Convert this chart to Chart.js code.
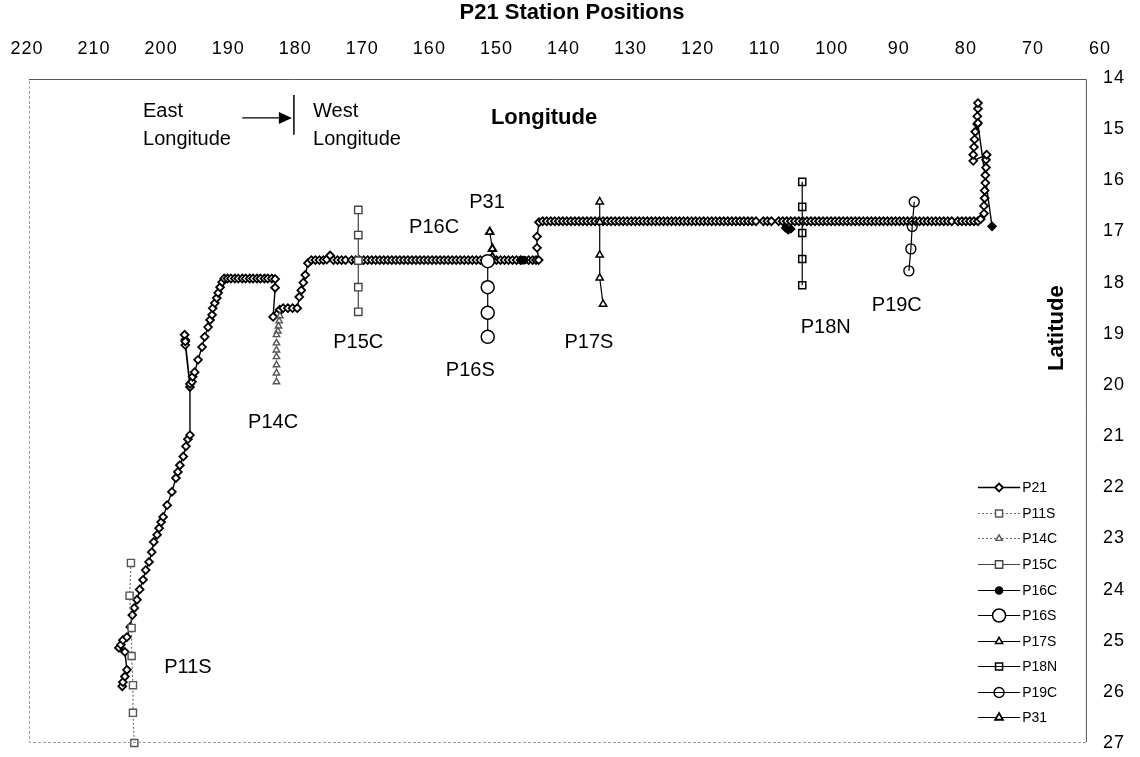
<!DOCTYPE html>
<html><head><meta charset="utf-8">
<script src="https://cdn.jsdelivr.net/npm/chart.js@4"></script>
<style>html,body{margin:0;padding:0;background:#fff;}canvas{display:block;}</style>
</head><body>
<canvas id="c" width="1140" height="757"></canvas>
<script>
const chartTitle = 'P21 Station Positions';
const lonTicks = [220,210,200,190,180,170,160,150,140,130,120,110,100,90,80,70,60];
const latTicks = [14,15,16,17,18,19,20,21,22,23,24,25,26,27];
const seriesNames = ['P21','P11S','P14C','P15C','P16C','P16S','P17S','P18N','P19C','P31'];

// P21 track [longitude, latitude]
const p21Track = [
[205.8,25.89],[205.7,25.81],[205.4,25.70],[205.1,25.57],[205.4,25.22],[206.3,25.14],[206.0,25.08],[205.7,24.99],[205.1,24.93],[204.6,24.73],[204.3,24.50],[204.0,24.36],[203.6,24.20],[203.2,24.00],[202.7,23.81],[202.3,23.62],[201.8,23.46],[201.4,23.27],[201.1,23.07],[200.6,22.93],[200.3,22.80],[200.0,22.68],[199.7,22.58],[199.1,22.35],[198.4,22.09],[197.8,21.82],[197.5,21.70],[197.2,21.57],[196.7,21.40],[196.3,21.20],[196.0,21.06],[195.7,20.98],
[195.7,20.04],[196.4,19.22],[196.4,19.12],[196.5,19.02],[196.4,19.15],[195.7,19.98],
[195.4,19.94],[195.3,19.84],[195.0,19.75],[194.5,19.51],[193.9,19.26],[193.5,19.06],[193.0,18.87],[192.7,18.73],[192.4,18.63],[192.3,18.50],[192.0,18.40],[191.7,18.30],[191.5,18.20],[191.2,18.09],[190.9,17.99],[190.6,17.92],
[190.1,17.92],[189.6,17.92],[189.0,17.92],[188.5,17.92],[187.9,17.92],[187.4,17.92],[186.8,17.92],[186.3,17.92],[185.7,17.92],[185.2,17.92],[184.6,17.92],[184.1,17.92],[183.5,17.92],[183.0,17.93],
[183.0,18.10],[183.3,18.67],[182.6,18.60],[182.3,18.53],[181.8,18.50],[181.1,18.50],[180.4,18.50],[179.7,18.50],
[179.4,18.28],[179.1,18.15],[178.8,18.00],[178.5,17.85],[178.1,17.62],
[177.6,17.56],[177.0,17.56],[176.4,17.56],[175.8,17.56],[175.3,17.55],[174.8,17.47],[174.3,17.56],[173.7,17.56],[173.1,17.56],[172.5,17.56],[171.6,17.56],[171.0,17.56],[170.4,17.56],[169.8,17.56],[169.2,17.56],[168.6,17.56],[168.0,17.56],[167.4,17.56],[166.8,17.56],[166.2,17.56],[165.6,17.56],[165.0,17.56],[164.4,17.56],[163.8,17.56],[163.2,17.56],[162.6,17.56],[162.0,17.56],[161.4,17.56],[160.8,17.56],[160.2,17.56],[159.6,17.56],[159.0,17.56],[158.4,17.56],[157.8,17.56],[157.2,17.56],[156.6,17.56],[156.0,17.56],[155.4,17.56],[154.8,17.56],[154.2,17.56],[153.6,17.56],[153.0,17.56],[152.4,17.56],[151.8,17.56],[151.2,17.56],[150.6,17.56],[150.0,17.56],[149.4,17.56],[148.8,17.56],[148.2,17.56],[147.6,17.56],[147.0,17.56],[146.4,17.56],[145.2,17.56],[144.6,17.56],[144.1,17.56],[143.7,17.56],
[143.95,17.32],[143.95,17.10],[143.65,16.82],
[143.1,16.80],[142.5,16.80],[141.9,16.80],[141.3,16.80],[140.7,16.80],[140.1,16.80],[139.5,16.80],[138.9,16.80],[138.3,16.80],[137.7,16.80],[137.1,16.80],[136.5,16.80],[135.9,16.80],[135.3,16.80],[134.7,16.80],[134.1,16.80],[133.5,16.80],[132.9,16.80],[132.3,16.80],[131.7,16.80],[131.1,16.80],[130.5,16.80],[129.9,16.80],[129.3,16.80],[128.7,16.80],[128.1,16.80],[127.5,16.80],[126.9,16.80],[126.3,16.80],[125.7,16.80],[125.1,16.80],[124.5,16.80],[123.9,16.80],[123.3,16.80],[122.7,16.80],[122.1,16.80],[121.5,16.80],[120.9,16.80],[120.3,16.80],[119.7,16.80],[119.1,16.80],[118.5,16.80],[117.9,16.80],[117.3,16.80],[116.7,16.80],[116.1,16.80],[115.5,16.80],[114.9,16.80],[114.3,16.80],[113.7,16.80],[113.1,16.80],[112.5,16.80],[111.9,16.80],[111.3,16.80],[110.2,16.80],[109.6,16.80],[109.0,16.80],[107.9,16.80],[107.3,16.80],[106.7,16.80],[106.1,16.80],[105.5,16.80],[104.9,16.80],[104.3,16.80],[103.7,16.80],[103.1,16.80],[102.5,16.80],[101.9,16.80],[101.3,16.80],[100.7,16.80],[100.1,16.80],[99.5,16.80],[98.9,16.80],[98.3,16.80],[97.7,16.80],[97.1,16.80],[96.5,16.80],[95.9,16.80],[95.3,16.80],[94.7,16.80],[94.1,16.80],[93.5,16.80],[92.9,16.80],[92.3,16.80],[91.7,16.80],[91.1,16.80],[90.5,16.80],[89.9,16.80],[89.3,16.80],[88.7,16.80],[88.1,16.80],[87.5,16.80],[86.9,16.80],[86.3,16.80],[85.7,16.80],[85.1,16.80],[84.5,16.80],[83.9,16.80],[83.3,16.80],[82.7,16.80],[82.1,16.80],[81.2,16.80],[80.6,16.80],[80.0,16.80],[79.4,16.80],[78.8,16.80],[78.2,16.80],
[77.8,16.76],[77.3,16.65],[77.3,16.50],[77.2,16.35],[77.2,16.20],[77.1,16.05],[77.1,15.90],[77.0,15.75],[77.0,15.60],[76.9,15.50],
[78.9,15.62],[78.9,15.50],[78.8,15.35],[78.7,15.20],[78.6,15.05],[78.3,14.90],[78.3,14.75],[78.2,14.60],[78.2,14.49],[78.2,14.88],[76.1,16.90]
];
const p21Dark = [[106.9,16.93],[106.5,16.97],[106.1,16.95]];
const p11s = [[204.5,23.48],[204.7,24.12],[204.4,24.75],[204.4,25.30],[204.2,25.87],[204.2,26.41],[204.0,27.00]];
const p14c = [[182.3,18.65],[182.4,18.75],[182.5,18.85],[182.6,18.95],[182.8,19.02],[182.8,19.18],[182.8,19.32],[182.8,19.45],[182.8,19.61],[182.8,19.77],[182.8,19.94]];
const p15c = [[170.6,16.58],[170.6,17.07],[170.6,17.57],[170.6,18.09],[170.6,18.57]];
const p16c = [[146.3,17.56],[145.9,17.56]];
const p16s = [[151.3,17.58],[151.3,18.09],[151.3,18.59],[151.3,19.06]];
const p17s = [[134.6,16.42],[134.6,16.82],[134.6,17.46],[134.6,17.91],[134.1,18.42]];
const p18n = [[104.4,16.03],[104.4,16.52],[104.4,17.03],[104.4,17.54],[104.4,18.05]];
const p19c = [[87.7,16.42],[88.0,16.90],[88.2,17.34],[88.5,17.77]];
const p31 = [[151.0,17.01],[150.6,17.34],[150.6,17.50],[150.8,17.56]];

const lineLabels = [
  {text:'P11S', lon:196.0, lat:25.52}, {text:'P14C', lon:183.3, lat:20.74},
  {text:'P15C', lon:170.6, lat:19.18}, {text:'P16C', lon:159.3, lat:16.93},
  {text:'P31', lon:151.4, lat:16.44}, {text:'P16S', lon:153.9, lat:19.71},
  {text:'P17S', lon:136.2, lat:19.18}, {text:'P18N', lon:100.9, lat:18.87},
  {text:'P19C', lon:90.3, lat:18.44}
];

const FONT = "'Liberation Sans', Arial, Helvetica, sans-serif";
Chart.defaults.font.family = FONT;
Chart.defaults.color = '#000';

function pts(a){ return a.map(p => ({x:p[0], y:p[1]})); }
function ds(label, data, o){
  return Object.assign({
    label, data: pts(data), borderColor:'#000', borderWidth:1.2, pointBorderColor:'#000',
    pointBackgroundColor:'#fff', pointBorderWidth:1.4, pointRadius:4, pointHoverRadius:4,
    showLine:true, tension:0, clip:false, fill:false, order:0, spanGaps:false
  }, o);
}
const lastIdx = p21Track.length - 1;
const datasets = [
  ds('P21', p21Track, {pointStyle:'rectRot', pointRadius:3.9, borderWidth:1.4, pointBorderWidth:1.8, order:10,
     pointBackgroundColor: c => c.dataIndex === lastIdx ? '#000' : '#fff'}),
  ds('P11S', p11s, {pointStyle:'rect', pointRadius:5, borderColor:'#666', pointBorderColor:'#555', borderDash:[2,2], borderWidth:1.1}),
  ds('P14C', p14c, {pointStyle:'triangle', pointRadius:3.7, borderColor:'#666', pointBorderColor:'#555', borderDash:[2,2], borderWidth:1.1}),
  ds('P15C', p15c, {pointStyle:'rect', pointRadius:5.2, borderColor:'#444', pointBorderColor:'#444'}),
  ds('P16C', p16c, {pointStyle:'circle', pointRadius:3.6, pointBackgroundColor:'#000'}),
  ds('P16S', p16s, {pointStyle:'circle', pointRadius:6.5, pointBorderWidth:1.5}),
  ds('P17S', p17s, {pointStyle:'triangle', pointRadius:4.2, pointBorderWidth:1.5}),
  ds('P18N', p18n, {pointStyle:'rect', pointRadius:5, pointBackgroundColor:'rgba(0,0,0,0)', pointBorderWidth:1.5}),
  ds('P19C', p19c, {pointStyle:'circle', pointRadius:5, pointBackgroundColor:'rgba(0,0,0,0)', pointBorderWidth:1.4}),
  ds('P31', p31, {pointStyle:'triangle', pointRadius:4.4, pointBorderWidth:1.9}),
  ds('', p21Dark, {pointStyle:'rectRot', pointRadius:3.9, pointBackgroundColor:'#000', order:9})
];

function drawMarker(ctx, d, x, y){
  ctx.save();
  ctx.lineWidth = d.pointBorderWidth; ctx.strokeStyle = d.pointBorderColor;
  ctx.fillStyle = typeof d.pointBackgroundColor === 'function' ? '#fff' : d.pointBackgroundColor;
  if (Chart.helpers && Chart.helpers.drawPoint) {
    Chart.helpers.drawPoint(ctx, {pointStyle: d.pointStyle, radius: d.pointRadius, rotation: 0, borderWidth: d.pointBorderWidth}, x, y);
  }
  ctx.restore();
}

const deco = {
  id: 'deco',
  beforeDraw(chart){ chart.ctx.letterSpacing = '1px'; },
  beforeDatasetsDraw(chart){ chart.ctx.letterSpacing = '0px'; },
  afterDatasetsDraw(chart){ chart.ctx.letterSpacing = '4px'; },
  afterDraw(chart){
    const ctx = chart.ctx, xs = chart.scales.x, ys = chart.scales.y;
    ctx.letterSpacing = '0px';
    ctx.save();
    // plot box
    const bl = xs.getPixelForValue(219.7), br = xs.getPixelForValue(62.1);
    const bt = ys.getPixelForValue(14.02), bb = ys.getPixelForValue(26.98);
    ctx.strokeStyle = '#555'; ctx.lineWidth = 1;
    ctx.beginPath(); ctx.moveTo(bl, bt+0.5); ctx.lineTo(br+0.5, bt+0.5); ctx.lineTo(br+0.5, bb); ctx.stroke();
    ctx.strokeStyle = '#999'; ctx.setLineDash([3,2]);
    ctx.beginPath(); ctx.moveTo(br, bb+0.5); ctx.lineTo(bl+0.5, bb+0.5); ctx.lineTo(bl+0.5, bt); ctx.stroke();
    ctx.setLineDash([]);
    // title
    ctx.fillStyle = '#000'; ctx.textAlign = 'center'; ctx.textBaseline = 'middle';
    ctx.font = 'bold 22px ' + FONT;
    ctx.fillText(chartTitle, 572, 13);
    // Longitude / Latitude titles
    ctx.font = 'bold 22px ' + FONT;
    ctx.fillText('Longitude', xs.getPixelForValue(142.9), ys.getPixelForValue(14.78));
    ctx.save();
    ctx.translate(xs.getPixelForValue(66.4), ys.getPixelForValue(18.89));
    ctx.rotate(-Math.PI/2);
    ctx.fillText('Latitude', 0, 0);
    ctx.restore();
    // East / West
    ctx.font = '20px ' + FONT; ctx.textAlign = 'left';
    ctx.fillText('East', xs.getPixelForValue(202.7), ys.getPixelForValue(14.66));
    ctx.fillText('Longitude', xs.getPixelForValue(202.7), ys.getPixelForValue(15.21));
    ctx.fillText('West', xs.getPixelForValue(177.35), ys.getPixelForValue(14.66));
    ctx.fillText('Longitude', xs.getPixelForValue(177.35), ys.getPixelForValue(15.21));
    // arrow
    const ay = ys.getPixelForValue(14.78), ax0 = xs.getPixelForValue(187.9), ax1 = xs.getPixelForValue(180.5);
    ctx.strokeStyle = '#000'; ctx.lineWidth = 1.3;
    ctx.beginPath(); ctx.moveTo(ax0, ay); ctx.lineTo(ax1 - 10, ay); ctx.stroke();
    ctx.beginPath(); ctx.moveTo(ax1, ay); ctx.lineTo(ax1 - 13, ay - 6); ctx.lineTo(ax1 - 13, ay + 6); ctx.closePath(); ctx.fill();
    const bx = xs.getPixelForValue(180.2);
    ctx.lineWidth = 1.5;
    ctx.beginPath(); ctx.moveTo(bx, ys.getPixelForValue(14.33)); ctx.lineTo(bx, ys.getPixelForValue(15.11)); ctx.stroke();
    // line labels
    ctx.font = '20px ' + FONT; ctx.textAlign = 'center';
    lineLabels.forEach(l => ctx.fillText(l.text, xs.getPixelForValue(l.lon), ys.getPixelForValue(l.lat)));
    // legend
    const lx0 = xs.getPixelForValue(78.2), lx1 = xs.getPixelForValue(71.9), mx = xs.getPixelForValue(75.05), tx = xs.getPixelForValue(71.6);
    ctx.font = '14px ' + FONT; ctx.textAlign = 'left';
    seriesNames.forEach((n, i) => {
      const d = chart.data.datasets[i];
      const y = Math.round(ys.getPixelForValue(22 + i * 0.5)) + 0.5;
      ctx.save();
      ctx.strokeStyle = d.borderColor; ctx.lineWidth = d.borderWidth;
      ctx.setLineDash(d.borderDash || []);
      ctx.beginPath(); ctx.moveTo(lx0, y); ctx.lineTo(lx1, y); ctx.stroke();
      ctx.restore();
      drawMarker(ctx, d, mx, y);
      ctx.fillStyle = '#000';
      ctx.fillText(n, tx, y + 1);
    });
    ctx.restore();
  }
};

new Chart(document.getElementById('c'), {
  type: 'line',
  data: { datasets },
  options: {
    responsive: false, animation: false, devicePixelRatio: 1,
    layout: { padding: { left: 27, right: 0, top: 0, bottom: 14 } },
    plugins: { legend: { display: false }, title: { display: false }, tooltip: { enabled: false } },
    events: [],
    scales: {
      x: {
        type: 'linear', position: 'top', reverse: true, min: 60, max: 220,
        grid: { display: false, drawTicks: true, tickLength: 18 }, border: { display: false },
        afterBuildTicks: s => { s.ticks = lonTicks.map(v => ({ value: v })); },
        afterFit: s => { s.height = 78; },
        ticks: { autoSkip: false, maxRotation: 0, padding: 0, font: { size: 18 }, color: '#000' }
      },
      y: {
        type: 'linear', position: 'right', reverse: true, min: 14, max: 27, z: 1,
        grid: { display: false, drawTicks: false }, border: { display: false },
        afterBuildTicks: s => { s.ticks = latTicks.map(v => ({ value: v })); },
        afterFit: s => { s.width = 40; },
        ticks: { autoSkip: false, padding: 3, font: { size: 18 }, color: '#000' }
      }
    }
  },
  plugins: [deco]
});
</script>
</body></html>
